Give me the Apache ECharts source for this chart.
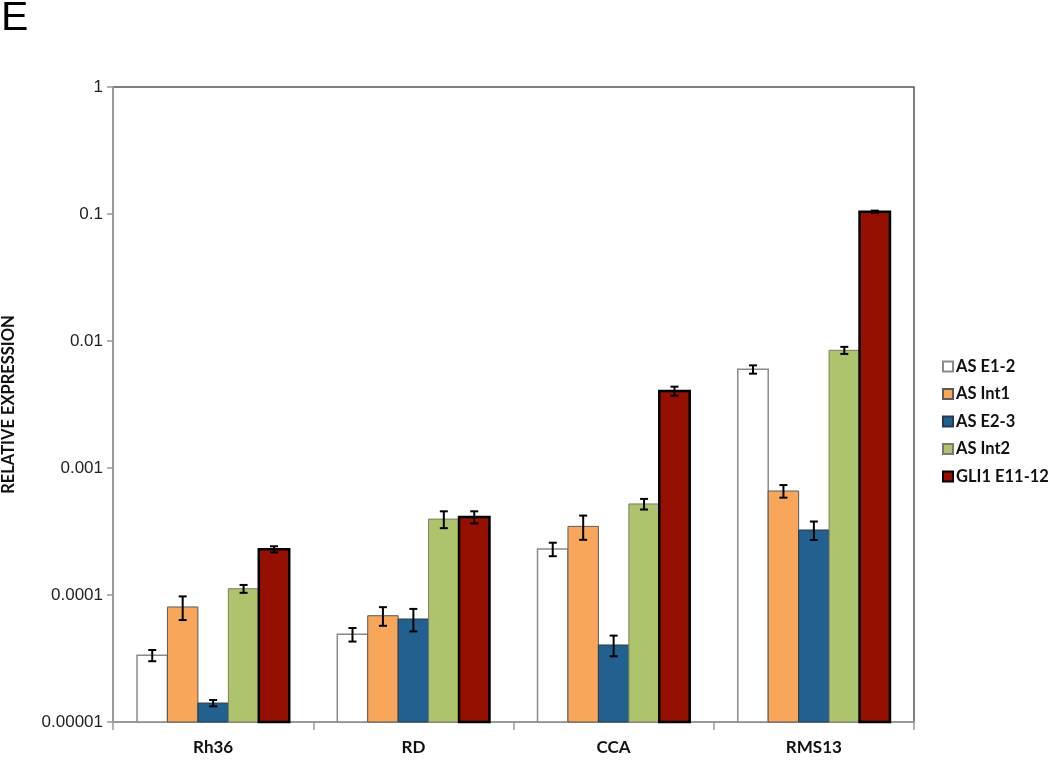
<!DOCTYPE html>
<html>
<head>
<meta charset="utf-8">
<title>relative expression</title>
<script src="https://cdn.jsdelivr.net/npm/echarts@6/dist/echarts.min.js"></script>
<style>
  html, body { margin: 0; padding: 0; background: #fff; }
  #main { width: 1050px; height: 761px; }
</style>
</head>
<body>
<div id="main"></div>
<script>
  // 数据
  var cellLines = ['Rh36', 'RD', 'CCA', 'RMS13'];
  var seriesNames = ['AS E1-2', 'AS Int1', 'AS E2-3', 'AS Int2', 'GLI1 E11-12'];
  var asE12   = [3.35e-5, 4.9e-5,  2.30e-4, 5.98e-3];
  var asInt1  = [8.05e-5, 6.87e-5, 3.47e-4, 6.59e-4];
  var asE23   = [1.41e-5, 6.47e-5, 4.04e-5, 3.25e-4];
  var asInt2  = [1.12e-4, 3.96e-4, 5.21e-4, 8.45e-3];
  var gli1    = [2.29e-4, 4.11e-4, 4.04e-3, 0.1043];
  // 误差
  var errE12  = [3.4e-6, 6e-6,   2.8e-5, 4.5e-4];
  var errInt1 = [1.7e-5, 1.15e-5, 7.5e-5, 7.5e-5];
  var errE23  = [8e-7,   1.3e-5, 7.5e-6, 5.4e-5];
  var errInt2 = [8e-6,   6e-5,   5e-5,   5.4e-4];
  var errGli1 = [1.3e-5, 4.5e-5, 3.3e-4, 2e-3];
  var yTickLabels = ['0.00001', '0.0001', '0.001', '0.01', '0.1', '1'];
  var yMin = 0.00001, yMax = 1;

  var values = [asE12, asInt1, asE23, asInt2, gli1];
  var errors = [errE12, errInt1, errE23, errInt2, errGli1];
  var fills   = ['#ffffff', '#F8A65A', '#22608F', '#AEC46C', '#951000'];
  var strokes = ['#8a8a8a', '#5a5a5a', '#2a3a4a', '#7a7a6a', '#000000'];
  var widths  = [1.5, 1, 1, 1, 2.5];
  var groupRatio = 0.76;

  var chart = echarts.init(document.getElementById('main'));

  function makeRender(idx) {
    return function (params, api) {
      var c = api.value(0), v = api.value(1), e = api.value(2);
      var catW = api.coord([1, 1])[0] - api.coord([0, 1])[0];
      var barW = catW * groupRatio / 5;
      var center = api.coord([c, v]);
      var x0 = center[0] - catW * groupRatio / 2 + idx * barW;
      var top = center[1];
      var base = api.coord([c, yMin])[1];
      var hi = api.coord([c, v + e])[1];
      var lo = api.coord([c, Math.max(v - e, yMin)])[1];
      var mx = x0 + barW / 2;
      var cap = 4;
      var eb = { stroke: '#000', lineWidth: 2 };
      return {
        type: 'group',
        children: [
          { type: 'rect', shape: { x: x0, y: top, width: barW, height: base - top },
            style: { fill: fills[idx], stroke: strokes[idx], lineWidth: widths[idx] } },
          { type: 'line', shape: { x1: mx, y1: hi, x2: mx, y2: lo }, style: eb },
          { type: 'line', shape: { x1: mx - cap, y1: hi, x2: mx + cap, y2: hi }, style: eb },
          { type: 'line', shape: { x1: mx - cap, y1: lo, x2: mx + cap, y2: lo }, style: eb }
        ]
      };
    };
  }

  var series = seriesNames.map(function (name, idx) {
    return {
      name: name,
      type: 'custom',
      renderItem: makeRender(idx),
      encode: { x: 0, y: 1 },
      itemStyle: { color: fills[idx], borderColor: strokes[idx], borderWidth: idx == 4 ? 1.5 : 1 },
      data: cellLines.map(function (c, i) { return [i, values[idx][i], errors[idx][i]]; }),
      z: 3
    };
  });

  var option = {
    backgroundColor: '#fff',
    animation: false,
    graphic: [{
      type: 'text', left: 1, top: -2,
      style: { text: 'E', font: '41px "Liberation Sans"', fill: '#000' }
    }],
    grid: {
      left: 113, right: 136, top: 87, bottom: 39,
      outerBoundsMode: 'none',
      show: true, borderColor: '#555', borderWidth: 1.5
    },
    legend: {
      orient: 'vertical',
      left: 937, top: 353,
      itemWidth: 10, itemHeight: 10, itemGap: 10.5,
      icon: 'rect',
      textStyle: { fontFamily: 'Lato', fontWeight: 'bold', fontSize: 16.5, color: '#111', padding: [0, 0, 0, -2] },
      data: seriesNames
    },
    xAxis: {
      type: 'category',
      data: cellLines,
      axisLine: { lineStyle: { color: '#999', width: 2 } },
      axisTick: { show: true, length: 8, alignWithLabel: false, lineStyle: { color: '#999', width: 1.5 } },
      axisLabel: { margin: 17, fontFamily: 'Lato', fontWeight: 'bold', fontSize: 17, color: '#111' },
      splitLine: { show: false }
    },
    yAxis: {
      type: 'log',
      logBase: 10,
      min: yMin, max: yMax,
      name: 'RELATIVE EXPRESSION',
      nameLocation: 'middle',
      nameGap: 96,
      nameTextStyle: { fontFamily: 'Lato', fontWeight: 'bold', fontSize: 16.5, color: '#111' },
      axisLine: { show: true, lineStyle: { color: '#999', width: 2 } },
      axisTick: { show: true, length: 6, lineStyle: { color: '#999', width: 1.5 } },
      axisLabel: {
        margin: 10, fontFamily: 'Liberation Sans', fontSize: 17, color: '#222',
        formatter: function (v) {
          var k = Math.round(Math.log10(v)) + 5;
          return yTickLabels[k] || '';
        }
      },
      splitLine: { show: false },
      minorTick: { show: false }
    },
    series: series
  };
  chart.setOption(option);
</script>
</body>
</html>
